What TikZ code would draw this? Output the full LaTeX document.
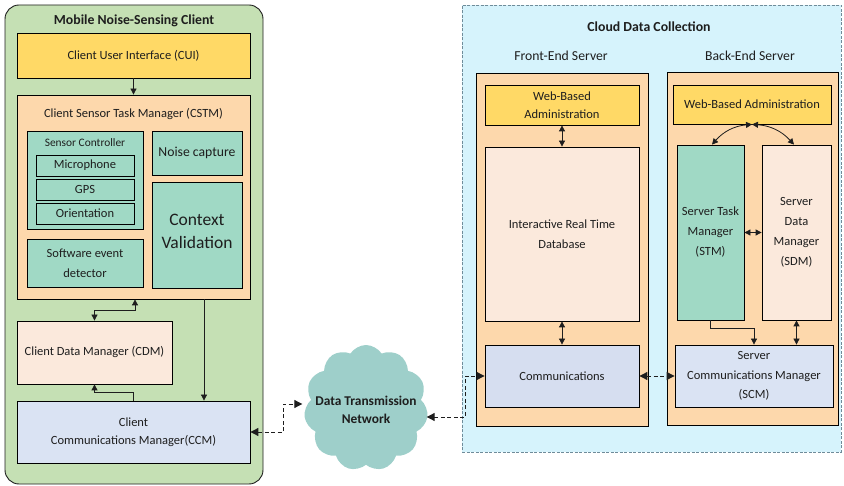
\documentclass[tikz,border=0pt]{standalone}
\usepackage{fontspec}
\setmainfont{Carlito}
\usetikzlibrary{arrows.meta,shapes.symbols}
\definecolor{clientbg}{HTML}{C5E0B4}
\definecolor{cuiyel}{HTML}{FFD966}
\definecolor{peach}{HTML}{FDD8AC}
\definecolor{tealbox}{HTML}{A0D9C5}
\definecolor{paleorange}{HTML}{FBE9DC}
\definecolor{commblue}{HTML}{DAE3F3}
\definecolor{commgrey}{HTML}{D6DEF0}
\definecolor{cloudc}{HTML}{9ECFCA}
\definecolor{cloudbg}{HTML}{D6F3FC}
\definecolor{cloudedge}{HTML}{6F8C9A}
\definecolor{ink}{HTML}{1E1E1E}
\tikzset{
  box/.style={draw=black, line width=0.8pt, inner sep=2pt, align=center, text=ink, font=\fontsize{12.5}{15}\selectfont},
  lbl/.style={text=ink, align=center, inner sep=0pt, font=\fontsize{12.5}{15}\selectfont},
  hdr/.style={text=ink, align=center, inner sep=0pt, font=\bfseries\fontsize{13.8}{16}\selectfont},
  arr/.style={line width=0.8pt, draw=ink, -{Triangle[length=6pt,width=6pt]}},
  dbl/.style={line width=0.8pt, draw=ink, {Triangle[length=6pt,width=6pt]}-{Triangle[length=6pt,width=6pt]}},
  dsh/.style={line width=0.9pt, draw=ink, dash pattern=on 4pt off 2.5pt, {Triangle[length=8pt,width=8pt]}-{Triangle[length=8pt,width=8pt]}}
}
\begin{document}
\begin{tikzpicture}[x=1pt,y=-1pt]
\useasboundingbox (0,0) rectangle (844,486);

% ---------------- mobile client ----------------
\node[draw=ink, line width=0.9pt, rounded corners=14pt, fill=clientbg,
      minimum width=258pt, minimum height=479pt] (client) at (134,244.5) {};
\node[hdr] (clienttitle) at (134,21) {Mobile Noise-Sensing Client};

\node[box, fill=cuiyel, minimum width=233pt, minimum height=45pt] (cui) at (133.5,55.5) {Client User Interface (CUI)};

\node[box, fill=peach, minimum width=233pt, minimum height=204pt] (cstm) at (133.5,197) {};
\node[lbl] (cstmtitle) at (133.5,114) {Client Sensor Task Manager (CSTM)};

\node[box, fill=tealbox, minimum width=116pt, minimum height=98pt] (sc) at (85,180) {};
\node[lbl, font=\fontsize{11.4}{14}\selectfont] (sctitle) at (85,143) {Sensor Controller};
\node[box, fill=tealbox, minimum width=98pt, minimum height=21pt] (mic) at (85,165.5) {Microphone};
\node[box, fill=tealbox, minimum width=98pt, minimum height=21pt] (gps) at (85,189.5) {GPS};
\node[box, fill=tealbox, minimum width=98pt, minimum height=21pt] (ori) at (85,213.5) {Orientation};

\node[box, fill=tealbox, minimum width=90pt, minimum height=44pt, font=\fontsize{13.7}{16}\selectfont] (noise) at (197,153) {Noise capture};
\node[box, fill=tealbox, minimum width=90pt, minimum height=106pt] (cv) at (197,235) {};
\node[lbl, font=\fontsize{17.5}{23}\selectfont] (cvtext) at (197,231.5) {Context\\Validation};

\node[box, fill=tealbox, minimum width=116pt, minimum height=48pt, font=\fontsize{12.5}{20}\selectfont] (sed) at (85,263) {Software event\\detector};

\node[box, fill=paleorange, minimum width=155pt, minimum height=63pt] (cdm) at (94.5,352.5) {Client Data Manager (CDM)};

\node[box, fill=commblue, minimum width=233pt, minimum height=62pt, font=\fontsize{12.5}{18}\selectfont] (ccm) at (133.5,432) {Client\\Communications Manager(CCM)};

% client connectors
\draw[arr] (cui.south) -- (cstm.north);
\draw[dbl] ([xshift=1.5pt]cstm.south) -- ++(0,11) -| (cdm.north);
\draw[arr] (ccm.north) -- ++(0,-8) -| (cdm.south);
\draw[arr] ([xshift=70.5pt]cstm.south) -- ([xshift=70.5pt]ccm.north);

% ---------------- network ----------------
\node[cloud, cloud puffs=11, cloud puff arc=115, aspect=0.95, fill=cloudc,
      minimum width=124pt, minimum height=126pt, inner sep=0pt] (net) at (366,408) {};
\node[hdr, font=\bfseries\fontsize{13.4}{16}\selectfont] (nettext) at (366,409.5) {Data Transmission\\[2pt]Network};

% ---------------- cloud data collection ----------------
\node[draw=cloudedge, line width=0.8pt, dash pattern=on 3pt off 1.5pt, fill=cloudbg,
      minimum width=379pt, minimum height=447pt] (cdc) at (651.5,228.5) {};
\node[hdr] (cdctitle) at (649,27) {Cloud Data Collection};
\node[lbl, font=\fontsize{13.7}{16}\selectfont] (fetitle) at (561,56) {Front-End Server};
\node[lbl, font=\fontsize{13.7}{16}\selectfont] (betitle) at (750,56) {Back-End Server};

% front-end server
\node[box, fill=peach, minimum width=172pt, minimum height=353pt] (fe) at (562,249.5) {};
\node[box, fill=cuiyel, minimum width=154pt, minimum height=40pt, font=\fontsize{12.5}{18}\selectfont] (wba1) at (562,105) {Web-Based\\Administration};
\node[box, fill=paleorange, minimum width=154pt, minimum height=174pt, font=\fontsize{12.5}{20}\selectfont] (db) at (562,234) {Interactive Real Time\\Database};
\node[box, fill=commgrey, minimum width=154pt, minimum height=62pt] (comm) at (562,376) {Communications};

% back-end server
\node[box, fill=peach, minimum width=171pt, minimum height=353pt] (be) at (752.5,248.5) {};
\node[box, fill=cuiyel, minimum width=158pt, minimum height=39pt] (wba2) at (752,104.5) {Web-Based Administration};
\node[box, fill=tealbox, minimum width=67pt, minimum height=175pt, font=\fontsize{12.5}{20}\selectfont] (stm) at (710.5,232.5) {Server Task\\Manager\\(STM)};
\node[box, fill=paleorange, minimum width=69pt, minimum height=175pt, font=\fontsize{12.5}{20}\selectfont] (sdm) at (796.5,232.5) {Server\\Data\\Manager\\(SDM)};
\node[box, fill=commblue, minimum width=158pt, minimum height=62pt, font=\fontsize{12.5}{19.5}\selectfont] (scm) at (754,376) {Server\\Communications Manager\\(SCM)};

% server connectors
\draw[dbl] (wba1.south) -- (db.north);
\draw[dbl] (db.south) -- (comm.north);
\draw[dbl] (wba2.south) to[bend right=22] ([xshift=1.5pt]stm.north);
\draw[dbl] (wba2.south) to[bend left=22] ([xshift=-2.5pt]sdm.north);
\draw[dbl] (stm.east) -- (sdm.west);
\draw[arr] (stm.south) -- ++(0,8) -| (scm.north);
\draw[dbl] (sdm.south) -- (sdm.south |- scm.north);
\draw[dsh] (comm.east) -- (scm.west);

% links through the network
\draw[dsh, shorten >=3pt] (ccm.east) -- ++(33,0) |- ([yshift=4pt]net.west);
\draw[dsh] ([yshift=-9pt]net.east) -- ++(39,0) |- (comm.west);
\end{tikzpicture}
\end{document}
